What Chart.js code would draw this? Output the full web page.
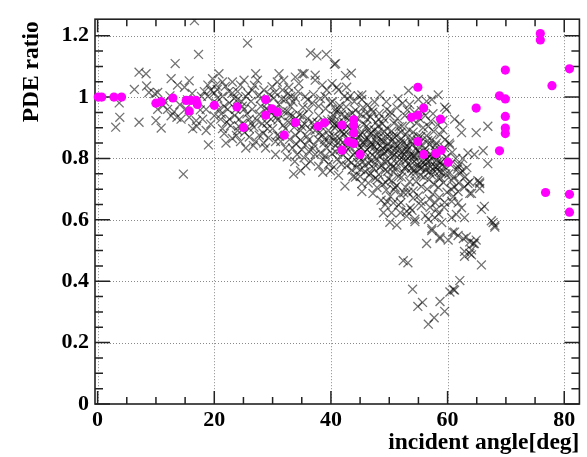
<!DOCTYPE html>
<html><head><meta charset="utf-8">
<script src="https://cdn.jsdelivr.net/npm/chart.js@4/dist/chart.umd.min.js"></script>
<style>html,body{margin:0;padding:0;background:#fff}</style>
</head><body>
<canvas id="c" width="587" height="457"></canvas>
<script>
const xTicks = [0, 20, 40, 60, 80];
const yTicks = [0, 0.2, 0.4, 0.6, 0.8, 1, 1.2];
const yTickLabels = ['0', '0.2', '0.4', '0.6', '0.8', '1', '1.2'];
const xMinorStep = 5;
const yMinorStep = 0.05;
const xTitle = 'incident angle[deg]';
const yTitle = 'PDE ratio';

// magenta circles [angle, ratio]
const magentaPts = [
[0.1,1.0],[0.7,1.0],[2.8,1.0],[4.1,1.0],[10.0,0.98],[10.9,0.985],[12.9,0.997],
[15.2,0.989],[16.0,0.989],[16.9,0.989],[17.1,0.976],[15.7,0.955],[20.0,0.973],
[23.9,0.968],[25.0,0.901],[28.8,0.992],[28.8,0.941],[29.9,0.962],[30.8,0.951],
[32.0,0.876],[33.9,0.917],[37.8,0.905],[38.9,0.916],[41.9,0.909],[43.9,0.926],
[43.9,0.909],[43.9,0.883],[43.0,0.855],[43.9,0.849],[41.9,0.827],[45.0,0.813],
[54.9,1.032],[55.9,0.964],[53.8,0.934],[54.9,0.941],[58.8,0.928],[54.9,0.855],
[55.9,0.813],[58.0,0.816],[58.9,0.827],[60.1,0.788],[64.9,0.964],[68.9,1.004],
[69.9,0.994],[69.9,1.088],[69.9,0.937],[69.9,0.899],[69.9,0.881],[68.9,0.825],
[75.9,1.207],[75.9,1.186],[77.9,1.037],[80.9,1.092],[76.8,0.689],[80.9,0.683],[80.9,0.625]
];

// gray crosses [angle, ratio]
const grayPts = [
[3.1,0.902],[3.8,0.934],[3.7,0.981],[6.3,1.025],[7.1,1.081],[8.3,1.076],[7.1,0.918],[8.8,1.015],[9.8,1.011],[8.4,1.036],
[10.3,1.015],[10.0,0.923],[10.3,0.960],[10.9,0.899],[12.0,0.960],[12.6,0.939],[13.6,0.934],[14.3,0.928],[12.6,1.060],[13.3,1.109],
[13.7,1.039],[14.9,1.032],[15.7,1.053],[15.7,0.934],[16.3,0.897],[16.9,0.923],[16.6,1.249],[17.3,1.139],[14.7,0.749],[11.5,0.985],
[12.4,1.004],[14.1,0.975],[15.1,0.962],[15.4,0.991],[17.6,0.958],[17.8,1.002],[18.0,0.928],[18.6,0.960],[18.9,1.002],[19.4,1.023],
[18.3,1.018],[18.6,0.891],[19.4,0.912],[20.0,0.939],[19.0,0.844],[18.9,1.039],[19.7,1.060],[13.1,0.952],[11.2,0.972],[16.2,1.012],[17.0,0.905],
[20.8,1.076],[21.4,1.049],[20.3,1.039],[23.1,1.049],[24.5,1.039],[25.1,1.055],[24.0,1.018],[25.7,1.176],[27.1,1.076],[27.4,1.055],
[28.5,1.023],[27.7,1.007],[20.0,1.013],[20.6,0.997],[20.8,0.960],[21.1,0.928],[22.3,0.960],[22.6,0.928],[21.7,0.881],[22.0,0.850],
[25.4,1.002],[26.3,0.986],[25.1,0.960],[26.0,0.928],[24.8,0.913],[26.0,0.870],[27.7,0.944],[28.2,0.913],[27.7,0.876],[29.1,0.897],[28.5,0.850],
[20.3,0.981],[21.4,1.002],[23.1,1.013],[22.6,0.981],[23.7,0.960],[24.0,0.992],[22.8,0.907],[24.3,0.928],[24.0,0.891],[23.1,0.865],
[24.5,0.855],[25.4,0.834],[26.5,0.960],[26.8,0.902],[27.1,0.855],[26.5,1.023],[29.1,0.981],[29.4,0.955],[29.7,0.928],[28.8,0.834],
[29.9,1.034],[21.7,0.970],[24.8,0.970],[28.0,0.970],[21.4,0.897],[26.0,0.897],
[20.5,1.025],[21.9,1.035],[22.5,1.018],[23.4,0.995],[24.7,0.985],[25.8,1.012],[26.9,1.038],[27.9,0.995],[28.9,0.962],[29.5,1.008],
[21.2,0.945],[22.1,0.918],[23.5,0.940],[24.2,0.905],[25.6,0.945],[26.3,0.915],[27.3,0.925],[28.4,0.882],[29.3,0.868],[23.8,0.875],
[25.2,0.885],[26.7,0.842],
[30.2,0.997],[31.1,0.976],[32.2,0.992],[33.1,0.970],[33.9,0.997],[30.0,0.897],[30.8,0.876],[31.4,0.855],[32.2,0.834],[30.5,0.813],
[32.8,0.918],[33.9,0.876],[34.8,0.860],[35.6,0.844],[36.2,0.823],[35.1,0.939],[36.2,0.960],[36.8,0.918],[37.9,0.939],[33.6,0.749],
[34.8,0.760],[37.3,0.813],[38.8,0.797],[39.6,0.781],[39.9,0.760],[39.0,1.002],[39.9,0.981],[39.6,0.891],[31.1,1.076],[30.8,1.049],
[31.9,1.055],[32.8,1.032],[33.9,1.065],[35.4,1.076],[34.5,1.044],[37.3,1.071],[37.3,1.055],[38.5,1.039],[39.3,1.023],[36.5,1.144],
[37.6,1.134],[39.2,1.139],[31.7,1.023],[31.4,0.939],[32.2,0.897],[33.4,0.939],[34.2,0.918],[34.8,0.891],[33.4,0.834],[34.2,0.813],
[35.4,0.802],[35.6,1.002],[36.8,0.981],[37.9,0.970],[37.3,0.891],[38.5,0.876],[38.8,0.850],[39.3,0.834],[36.2,0.860],[37.1,0.844],
[33.1,1.002],[30.5,0.960],[30.5,0.855],[35.1,1.076],
[30.4,1.015],[31.6,0.994],[32.7,1.012],[33.5,0.984],[34.4,1.018],[35.2,0.966],[36.0,0.991],[37.0,1.008],[38.2,0.995],[39.1,0.962],
[30.9,0.925],[31.8,0.908],[32.6,0.952],[33.7,0.902],[34.6,0.942],[35.5,0.912],[36.4,0.895],[37.6,0.918],[38.4,0.902],[39.4,0.925],
[31.2,0.872],[32.9,0.862],[34.0,0.848],[35.0,0.828],[35.9,0.872],[36.9,0.832],[37.8,0.862],[38.2,0.818],[39.0,0.808],[39.7,0.852],
[32.5,0.805],[33.8,0.790],[36.5,0.791],[37.9,0.775],[38.6,0.755],[35.7,0.776],
[40.8,1.109],[42.5,1.070],[43.5,1.078],[41.0,1.032],[40.2,1.044],[40.6,1.107],[44.7,1.004],[45.3,0.992],[48.4,1.007],[53.3,1.021],
[55.0,0.992],[56.4,0.986],[57.3,0.992],[58.4,1.007],[59.5,0.967],[51.3,0.965],[50.1,0.939],[49.6,0.960],[47.0,0.960],[48.2,0.928],
[46.2,0.928],[41.3,0.960],[40.5,0.939],[42.2,0.918],[59.8,0.960],[43.3,1.004],[45.3,1.007],[40.8,0.960],[40.2,0.928],[41.0,0.907],
[40.5,0.860],[42.7,1.032],[41.3,1.023],
[40.3,0.985],[41.5,0.972],[40.9,0.951],[41.8,0.943],[40.1,0.921],[41.2,0.915],[40.7,0.899],[41.9,0.887],[40.4,0.873],[41.4,0.866],
[42.0,0.852],[40.8,0.841],[41.6,0.828],[40.2,0.815],[41.1,0.798],[41.8,0.781],[40.5,0.772],[41.3,0.745],[42.3,1.002],[42.6,0.968],
[42.4,0.937],[43.1,0.925],[43.7,0.948],[42.8,0.905],[43.5,0.893],[42.2,0.878],[43.9,0.869],[42.9,0.858],[43.3,0.838],[42.5,0.822],
[43.8,0.812],[43.0,0.795],[42.7,0.776],[43.6,0.762],[44.0,0.985],[42.9,0.994],[43.8,0.741],[42.4,0.710],
[44.2,0.957],[45.1,0.944],[44.6,0.928],[45.7,0.912],[44.3,0.897],[45.4,0.884],[44.8,0.871],[45.9,0.860],[44.5,0.848],[45.2,0.836],
[45.8,0.821],[44.1,0.818],[44.9,0.803],[45.5,0.789],[44.4,0.771],[45.9,0.757],[45.0,0.742],[44.2,0.739],[45.3,0.718],[45.3,0.692],
[46.3,0.973],[47.2,0.951],[46.8,0.935],[47.7,0.917],[46.1,0.905],[47.4,0.893],[46.6,0.879],[47.9,0.866],[46.9,0.852],[47.5,0.838],
[46.2,0.829],[47.1,0.811],[47.8,0.800],[46.5,0.784],[47.3,0.769],[46.8,0.752],[47.6,0.735],[46.4,0.720],[47.9,0.705],
[48.3,0.947],[49.1,0.929],[48.8,0.913],[49.6,0.899],[48.1,0.886],[49.4,0.872],[48.6,0.861],[49.8,0.849],[48.9,0.833],[49.2,0.818],
[48.4,0.806],[49.7,0.790],[48.7,0.777],[49.3,0.762],[48.2,0.748],[49.9,0.733],[48.9,0.716],[49.5,0.697],[49.3,0.649],[49.6,0.660],[49.0,0.623],
[50.2,0.951],[51.4,0.930],[50.8,0.915],[51.7,0.903],[50.4,0.889],[51.2,0.874],[50.6,0.861],[51.9,0.850],[50.1,0.838],[51.5,0.826],
[50.9,0.812],[51.8,0.797],[50.3,0.782],[51.1,0.769],[50.7,0.755],[51.6,0.741],[50.4,0.727],[51.3,0.712],[50.8,0.698],[51.9,0.683],
[50.4,0.623],[51.6,0.649],[50.7,0.655],[51.9,0.623],[50.1,0.592],[51.3,0.583],
[52.3,0.980],[53.1,0.958],[52.7,0.940],[53.6,0.922],[52.2,0.905],[53.4,0.893],[52.8,0.878],[53.9,0.866],[52.5,0.852],[53.2,0.840],
[52.9,0.823],[53.7,0.811],[52.4,0.797],[53.3,0.783],[52.6,0.768],[53.8,0.752],[52.1,0.739],[53.5,0.724],[52.8,0.706],[53.2,0.690],
[53.0,0.612],[53.0,0.628],[53.6,0.639],[52.4,0.467],[53.2,0.460],
[54.3,0.950],[55.2,0.930],[54.7,0.915],[55.8,0.900],[54.1,0.886],[55.4,0.871],[54.9,0.860],[55.6,0.845],[54.5,0.832],[55.1,0.819],
[54.2,0.808],[55.7,0.794],[54.8,0.780],[55.3,0.766],[54.4,0.752],[55.9,0.739],[54.6,0.724],[55.5,0.709],[54.1,0.694],[55.0,0.678],
[54.4,0.602],[54.4,0.594],[54.0,0.374],[54.9,0.318],[55.7,0.331],[55.4,0.660],
[56.2,0.940],[57.1,0.921],[56.7,0.905],[57.6,0.888],[56.4,0.874],[57.3,0.860],[56.9,0.845],[57.8,0.830],[56.1,0.819],[57.4,0.803],
[56.6,0.789],[57.9,0.774],[56.3,0.762],[57.2,0.747],[56.8,0.731],[57.7,0.716],[56.5,0.700],[57.5,0.684],[56.9,0.668],[56.7,0.602],
[57.8,0.607],[57.3,0.571],[56.4,0.523],[56.7,0.260],[57.7,0.281],[58.1,0.634],
[58.3,0.910],[59.2,0.893],[58.7,0.877],[59.6,0.862],[58.1,0.850],[59.4,0.836],[58.9,0.820],[59.8,0.805],[58.5,0.791],[59.1,0.778],
[58.2,0.764],[59.7,0.750],[58.8,0.737],[59.3,0.721],[58.4,0.706],[59.9,0.690],[58.6,0.673],[59.5,0.657],[59.0,0.591],[58.7,0.544],
[60.1,0.534],[58.7,0.334],[59.5,0.302],[57.3,0.565],[58.7,0.539],
[40.6,0.912],[41.6,0.893],[42.6,0.886],[43.2,0.862],[44.3,0.858],[45.0,0.878],[45.6,0.851],[46.4,0.862],[47.0,0.845],[47.7,0.825],
[48.5,0.842],[49.0,0.815],[49.8,0.826],[50.5,0.805],[51.0,0.832],[51.7,0.810],[52.2,0.821],[52.9,0.795],[53.5,0.806],[54.0,0.785],
[54.6,0.796],[55.2,0.774],[55.8,0.786],[56.5,0.771],[57.0,0.791],[57.6,0.762],[58.3,0.776],[59.0,0.754],[59.6,0.771],[44.1,0.914],
[46.0,0.946],[48.1,0.904],[50.0,0.871],[52.1,0.864],[54.0,0.846],[56.1,0.831],[58.0,0.816],[43.0,0.941],[45.5,0.966],[47.5,0.984],
[49.5,0.985],[51.5,0.994],[53.5,0.976],[55.5,0.956],[57.5,0.946],[59.2,0.924],[42.1,0.811],[43.5,0.786],[45.1,0.764],[46.6,0.746],
[48.0,0.731],[49.4,0.722],[51.0,0.706],[52.5,0.688],[54.1,0.671],[55.5,0.646],[57.0,0.641],[58.5,0.619],[47.2,0.686],[48.6,0.664],
[50.2,0.676],[52.0,0.656],[53.9,0.631],[56.2,0.614],[57.9,0.655],[59.4,0.641],[46.9,0.881],[48.9,0.856],[50.9,0.846],[52.9,0.839],
[54.9,0.826],[56.9,0.806],[58.9,0.789],[44.6,0.786],[46.1,0.806],[47.4,0.781],[49.1,0.791],[50.6,0.771],[52.3,0.756],[53.8,0.769],
[55.3,0.746],[56.9,0.756],[58.4,0.736],
[45.4,0.851],[46.7,0.838],[47.8,0.853],[48.3,0.822],[49.5,0.838],[50.4,0.815],[51.4,0.842],[52.6,0.812],[53.1,0.828],[54.3,0.808],
[55.4,0.818],[56.3,0.797],[57.2,0.812],[58.1,0.795],[45.8,0.778],[47.0,0.795],[48.4,0.771],[49.7,0.758],[51.2,0.784],[52.8,0.772],
[54.2,0.761],[55.6,0.770],[57.1,0.773],[58.6,0.758],[46.4,0.892],[47.9,0.876],[49.2,0.887],[50.7,0.873],[52.0,0.886],[53.7,0.856],
[55.0,0.872],[56.6,0.858],[57.9,0.842],[44.8,0.828],[43.6,0.851],[42.6,0.838],[41.2,0.852],[40.8,0.822],[39.8,0.872],[38.9,0.862],
[38.1,0.885],[37.1,0.905],[36.0,0.930],[35.0,0.905],[34.0,0.930],[32.9,0.940],[31.8,0.955],[30.7,0.935],[29.8,0.948],[29.0,0.915],
[61.2,0.928],[62.1,0.913],[62.4,0.884],[64.9,0.884],[66.9,0.905],[63.5,0.818],[64.6,0.813],[66.1,0.825],[66.9,0.783],[60.7,0.660],
[61.8,0.692],[62.9,0.707],[63.8,0.686],[65.2,0.728],[65.5,0.702],[67.8,0.591],[60.7,0.728],[61.2,0.707],[63.5,0.718],[64.1,0.686],
[65.5,0.718],[65.8,0.634],[66.3,0.644],[61.0,0.676],[61.8,0.655],[62.4,0.639],[61.5,0.618],[62.9,0.607],[60.7,0.607],[67.5,0.597],
[68.1,0.581],[61.2,0.560],[63.2,0.544],[63.8,0.528],[64.4,0.523],[64.9,0.534],[62.9,0.497],[62.9,0.481],[64.1,0.502],[64.1,0.486],
[65.8,0.453],[62.1,0.402],[61.0,0.373],[60.4,0.365],[61.2,0.371],[60.9,0.560],[61.8,0.549],[62.7,0.539],[63.8,0.491],[64.6,0.523],
[68.1,0.576],[60.3,0.850],[60.8,0.820],[61.4,0.800],[60.5,0.780],[61.7,0.765],[60.2,0.750],[61.1,0.740],[62.0,0.780],[62.5,0.760],
[61.9,0.720],[60.6,0.700],[62.6,0.800],[63.0,0.740],[63.3,0.770],[60.4,0.844],[61.8,0.773],[62.1,0.750],[63.8,0.723],[65.5,0.723]
];

const toXY = p => ({x: p[0], y: p[1]});
const serif = '"Liberation Serif", "Times New Roman", serif';

const rootFrame = {
  id: 'rootFrame',
  beforeDatasetsDraw(chart) {
    const {ctx, chartArea: a, scales: {x, y}} = chart;
    ctx.save();
    ctx.strokeStyle = '#8a8a8a';
    ctx.lineWidth = 1;
    ctx.setLineDash([1, 2]);
    xTicks.forEach(v => {
      const p = Math.round(x.getPixelForValue(v)) + 0.5;
      ctx.beginPath(); ctx.moveTo(p, a.top); ctx.lineTo(p, a.bottom); ctx.stroke();
    });
    yTicks.forEach(v => {
      if (v === 0) return;
      const p = Math.round(y.getPixelForValue(v)) + 0.5;
      ctx.beginPath(); ctx.moveTo(a.left, p); ctx.lineTo(a.right, p); ctx.stroke();
    });
    ctx.setLineDash([]);
    ctx.strokeStyle = '#222';
    ctx.lineWidth = 1.5;
    for (let v = 0; v <= x.max; v += xMinorStep) {
      const p = x.getPixelForValue(v);
      const L = xTicks.includes(v) ? 13 : 7;
      ctx.beginPath();
      ctx.moveTo(p, a.bottom); ctx.lineTo(p, a.bottom - L);
      ctx.moveTo(p, a.top); ctx.lineTo(p, a.top + L);
      ctx.stroke();
    }
    for (let i = 0; i * yMinorStep <= y.max - 0.01; i++) {
      const v = +(i * yMinorStep).toFixed(2);
      const p = y.getPixelForValue(v);
      const L = (i % 4 === 0) ? 15 : 8;
      ctx.beginPath();
      ctx.moveTo(a.left, p); ctx.lineTo(a.left + L, p);
      ctx.moveTo(a.right, p); ctx.lineTo(a.right - L, p);
      ctx.stroke();
    }
    ctx.lineWidth = 1.6;
    ctx.strokeRect(a.left, a.top, a.right - a.left, a.bottom - a.top);
    ctx.restore();
  },
  afterDraw(chart) {
    const {ctx, chartArea: a} = chart;
    ctx.save();
    ctx.fillStyle = '#000';
    ctx.font = 'bold 23.5px ' + serif;
    ctx.textBaseline = 'alphabetic';
    ctx.textAlign = 'right';
    ctx.fillText(xTitle, a.right, 449);
    ctx.translate(38, a.top + 2);
    ctx.rotate(-Math.PI / 2);
    ctx.fillText(yTitle, 0, 0);
    ctx.restore();
  }
};

const tickFont = {family: serif, weight: 'bold', size: 22};

new Chart(document.getElementById('c'), {
  type: 'scatter',
  data: {
    datasets: [
      {
        label: 'magenta',
        data: magentaPts.map(toXY),
        order: 0,
        pointStyle: 'circle',
        pointRadius: 4.6,
        pointBackgroundColor: '#ff00ff',
        pointBorderWidth: 0,
        pointBorderColor: '#ff00ff',
        clip: false
      },
      {
        label: 'gray',
        data: grayPts.map(toXY),
        order: 1,
        pointStyle: 'crossRot',
        pointRadius: 6.3,
        pointBorderColor: 'rgba(0,0,0,0.55)',
        pointBorderWidth: 1.3,
        pointBackgroundColor: 'rgba(0,0,0,0)'
      }
    ]
  },
  options: {
    responsive: false,
    animation: false,
    devicePixelRatio: 1,
    layout: {padding: {top: 7, right: 5, bottom: 0, left: 0}},
    plugins: {legend: {display: false}, tooltip: {enabled: false}},
    events: [],
    scales: {
      x: {
        type: 'linear',
        min: -0.45,
        max: 82.6,
        afterFit(s) { s.height = 53; },
        afterBuildTicks(s) { s.ticks = xTicks.map(v => ({value: v})); },
        grid: {display: false, drawTicks: false},
        border: {display: false},
        ticks: {font: tickFont, color: '#000', padding: 3, maxRotation: 0, autoSkip: false,
                callback: v => String(v)},
        title: {display: false, text: xTitle}
      },
      y: {
        type: 'linear',
        min: 0,
        max: 1.2537,
        afterFit(s) { s.width = 95; },
        afterBuildTicks(s) { s.ticks = yTicks.map(v => ({value: v})); },
        grid: {display: false, drawTicks: false},
        border: {display: false},
        ticks: {font: tickFont, color: '#000', padding: 6, autoSkip: false,
                callback: (v) => yTickLabels[yTicks.indexOf(v)] ?? ''},
        title: {display: false, text: yTitle}
      }
    }
  },
  plugins: [rootFrame]
});
</script>
</body></html>
